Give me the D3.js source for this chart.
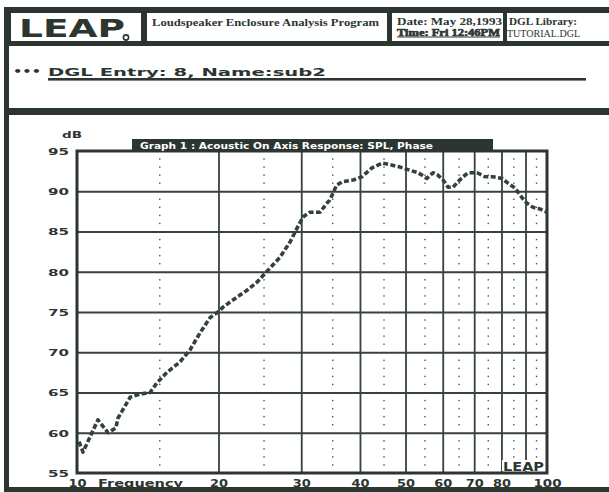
<!DOCTYPE html>
<html>
<head>
<meta charset="utf-8">
<script src="https://cdn.jsdelivr.net/npm/d3@7"></script>
<style>
  html, body { margin: 0; padding: 0; background: #fff; }
  svg { display: block; }
</style>
</head>
<body>
<svg id="chart" width="609" height="492"></svg>
<script>
// On-axis SPL response of the "sub2" enclosure (frequency in Hz, level in dB)
const freqHz = [10.1, 10.3, 11.08, 11.64, 12.1, 12.22, 12.97, 13.62, 14.3, 14.8,
  15.54, 16.56, 17.4, 18.27, 19.19, 19.95, 20.45, 21.47, 23.0, 24.15,
  25.5, 27.03, 28.4, 29.5, 30.26, 31.3, 32.9, 34.0, 34.5, 35.7,
  36.8, 38.7, 40.4, 42.4, 44.6, 46.3, 48.7, 51.1, 53.2, 55.5,
  57.2, 58.6, 60.1, 61.6, 63.1, 64.7, 66.3, 67.9, 71.0, 73.8,
  76.7, 80.2, 82.6, 85.5, 88.5, 90.7, 93.4, 96.6, 100];
const splDb = [58.9, 57.6, 61.6, 60.0, 60.6, 61.8, 64.4, 64.8, 65.0, 66.2,
  67.5, 68.8, 70.3, 72.4, 74.3, 75.0, 75.6, 76.5, 77.7, 78.7,
  80.2, 81.8, 83.7, 85.6, 86.8, 87.4, 87.4, 88.5, 88.9, 90.8,
  91.2, 91.4, 91.8, 92.9, 93.5, 93.3, 93.0, 92.6, 92.3, 91.6,
  92.3, 92.0, 91.4, 90.5, 90.5, 91.2, 91.8, 92.3, 92.3, 91.8,
  91.8, 91.6, 91.0, 90.4, 89.2, 88.5, 88.0, 87.8, 87.4];

const xGridHz = [20, 30, 40, 50, 60, 70, 80, 90];
const xMinorHz = [15, 25, 35, 45, 55, 65, 75, 85, 95];
const xTickLabels = [10, 20, 30, 40, 50, 60, 70, 80, 100];
const yGridDb = [60, 65, 70, 75, 80, 85, 90];
const yTickLabels = [55, 60, 65, 70, 75, 80, 85, 90, 95];

const ink = "#2c3530";
const gridInk = "#37423b";
const curveInk = "#34423c";
const sans = "'DejaVu Sans', Verdana, sans-serif";
const serif = "'Liberation Serif', 'DejaVu Serif', serif";

const svg = d3.select("#chart");

// ---------- window frame ----------
svg.append("rect").attr("x", 5).attr("y", 7).attr("width", 604).attr("height", 39).attr("fill", ink);
[[11, 13, 130, 28], [147, 13, 240, 28], [392, 13, 111, 28], [507, 13, 102, 28]].forEach(b => {
  svg.append("rect").attr("x", b[0]).attr("y", b[1]).attr("width", b[2]).attr("height", b[3]).attr("fill", "#fff");
});
svg.append("rect").attr("x", 4).attr("y", 7).attr("width", 5).attr("height", 485).attr("fill", ink);
svg.append("rect").attr("x", 4).attr("y", 108).attr("width", 605).attr("height", 7).attr("fill", ink);
svg.append("rect").attr("x", 4).attr("y", 487).attr("width", 605).attr("height", 5).attr("fill", ink);

// LEAP logo
svg.append("text").attr("x", 19).attr("y", 36.5)
  .attr("font-family", sans).attr("font-weight", "bold").attr("font-size", 25)
  .attr("textLength", 106).attr("lengthAdjust", "spacingAndGlyphs")
  .attr("fill", ink).text("LEAP");
svg.append("circle").attr("cx", 126).attr("cy", 37.5).attr("r", 2.6)
  .attr("fill", "#fff").attr("stroke", ink).attr("stroke-width", 1.6);

// header captions
const hdr = (x, y, s, len, opts = {}) => svg.append("text").attr("x", x).attr("y", y)
  .attr("font-family", serif).attr("font-weight", opts.weight || "bold")
  .attr("font-size", opts.size || 10.5).attr("fill", ink)
  .attr("textLength", len).attr("lengthAdjust", "spacingAndGlyphs").text(s);
hdr(152, 25.5, "Loudspeaker Enclosure Analysis Program", 227);
hdr(397, 24.5, "Date: May 28,1993", 105);
hdr(397, 36, "Time: Fri 12:46PM", 103, { size: 9.5 })
  .attr("stroke", ink).attr("stroke-width", 0.6);
svg.append("line").attr("x1", 397).attr("x2", 500).attr("y1", 37).attr("y2", 37)
  .attr("stroke", ink).attr("stroke-width", 1.2);
hdr(509, 24.5, "DGL Library:", 68);
hdr(507, 36.5, "TUTORIAL.DGL", 73, { weight: "normal", size: 9.5 });

// entry caption
svg.append("text").attr("x", 13).attr("y", 75)
  .attr("font-family", sans).attr("font-weight", "bold").attr("font-size", 11)
  .attr("textLength", 28).attr("lengthAdjust", "spacingAndGlyphs")
  .attr("fill", ink).text("•••");
svg.append("text").attr("x", 48).attr("y", 75.5)
  .attr("font-family", sans).attr("font-weight", "bold").attr("font-size", 11)
  .attr("textLength", 278).attr("lengthAdjust", "spacingAndGlyphs")
  .attr("fill", ink).text("DGL Entry: 8, Name:sub2");
svg.append("rect").attr("x", 48).attr("y", 78).attr("width", 538).attr("height", 2.6).attr("fill", ink);

// ---------- chart ----------
const plot = { left: 77, right: 547, top: 151, bottom: 473 };
const x = d3.scaleLog().domain([10, 100]).range([plot.left, plot.right]);
const y = d3.scaleLinear().domain([55, 95]).range([plot.bottom, plot.top]);

// dotted half-decade guides: one dot per dB step
const dotDb = d3.range(56, 95).filter(v => v % 5 !== 0);
const dots = svg.append("g").attr("fill", "#4a544e");
xMinorHz.forEach(f => {
  dotDb.forEach(v => {
    dots.append("rect").attr("x", x(f) - 0.7).attr("y", y(v) - 0.7)
      .attr("width", 1.4).attr("height", 1.4);
  });
});

// solid grid from the axes
const gx = svg.append("g").attr("transform", `translate(0,${plot.bottom})`)
  .call(d3.axisBottom(x).tickValues(xGridHz).tickSize(-(plot.bottom - plot.top)).tickFormat(""));
gx.select(".domain").remove();
gx.selectAll("line").attr("stroke", gridInk).attr("stroke-width", 1.8);

const gy = svg.append("g").attr("transform", `translate(${plot.left},0)`)
  .call(d3.axisLeft(y).tickValues(yGridDb).tickSize(-(plot.right - plot.left)).tickFormat(""));
gy.select(".domain").remove();
gy.selectAll("line").attr("stroke", gridInk).attr("stroke-width", 1.8);

// plot frame
svg.append("rect").attr("x", plot.left).attr("y", plot.top)
  .attr("width", plot.right - plot.left).attr("height", plot.bottom - plot.top)
  .attr("fill", "none").attr("stroke", ink).attr("stroke-width", 3);

// y labels
const ay = svg.append("g").attr("transform", `translate(${plot.left},0)`)
  .call(d3.axisLeft(y).tickValues(yTickLabels).tickSize(0).tickPadding(8));
ay.select(".domain").remove();
ay.selectAll("text")
  .attr("font-family", sans).attr("font-weight", "bold").attr("font-size", 9)
  .attr("fill", ink).attr("x", -8).attr("dy", "0.36em")
  .attr("textLength", 21).attr("lengthAdjust", "spacingAndGlyphs");

// x labels
const ax = svg.append("g").attr("transform", `translate(0,${plot.bottom})`)
  .call(d3.axisBottom(x).tickValues(xTickLabels).tickSize(0).tickFormat(d3.format("d")));
ax.select(".domain").remove();
ax.selectAll("text")
  .attr("font-family", sans).attr("font-weight", "bold").attr("font-size", 10)
  .attr("fill", ink).attr("y", 14).attr("dy", 0)
  .attr("textLength", d => d >= 100 ? 28 : 18).attr("lengthAdjust", "spacingAndGlyphs");

svg.append("text").attr("x", 98).attr("y", 487)
  .attr("font-family", sans).attr("font-weight", "bold").attr("font-size", 10)
  .attr("textLength", 85).attr("lengthAdjust", "spacingAndGlyphs")
  .attr("fill", ink).text("Frequency");

svg.append("text").attr("x", 62).attr("y", 138)
  .attr("font-family", sans).attr("font-weight", "bold").attr("font-size", 9)
  .attr("textLength", 20).attr("lengthAdjust", "spacingAndGlyphs")
  .attr("fill", ink).text("dB");

// graph title tab
svg.append("rect").attr("x", 132).attr("y", 139).attr("width", 361).attr("height", 12).attr("fill", ink);
svg.append("text").attr("x", 140).attr("y", 148.5)
  .attr("font-family", sans).attr("font-weight", "bold").attr("font-size", 8.5)
  .attr("textLength", 293).attr("lengthAdjust", "spacingAndGlyphs")
  .attr("fill", "#fff").text("Graph 1 : Acoustic On Axis Response: SPL, Phase");

// response curve
const line = d3.line().x((d, i) => x(freqHz[i])).y(d => y(d));
svg.append("path").datum(splDb).attr("d", line)
  .attr("fill", "none").attr("stroke", curveInk).attr("stroke-width", 3.6)
  .attr("stroke-dasharray", "5,2.4").attr("stroke-linejoin", "round");

// corner logo inside the plot
svg.append("rect").attr("x", 502).attr("y", 460).attr("width", 43).attr("height", 11).attr("fill", "#fff");
svg.append("text").attr("x", 503).attr("y", 471)
  .attr("font-family", sans).attr("font-weight", "bold").attr("font-size", 12)
  .attr("textLength", 41).attr("lengthAdjust", "spacingAndGlyphs")
  .attr("fill", ink).text("LEAP");
</script>
</body>
</html>
